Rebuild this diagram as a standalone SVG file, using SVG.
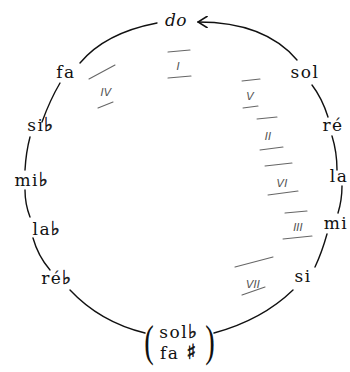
<svg xmlns="http://www.w3.org/2000/svg" width="350" height="372" viewBox="0 0 350 372">
<style>
.n{font-family:"DejaVu Serif","Liberation Serif",serif;font-size:17px;fill:#111;text-anchor:middle;letter-spacing:1.5px}
.it{font-style:italic;letter-spacing:0.5px}
.f{font-family:"DejaVu Sans",sans-serif;font-size:19px;fill:#111;stroke:#111;stroke-width:0.5}
.s{font-size:21px}
.c{fill:none;stroke:#111;stroke-width:1.4;stroke-linecap:round}
.r{font-family:"DejaVu Sans","Liberation Sans",sans-serif;font-size:11px;font-style:italic;fill:#555;text-anchor:middle}
.b{stroke:#666;stroke-width:1.1;fill:none;stroke-linecap:round}
.p{font-family:"Liberation Serif","DejaVu Serif",serif;font-size:44px;fill:#111;text-anchor:middle}
</style>
<defs>
<marker id="ah" viewBox="0 0 10 10" refX="9" refY="5" markerWidth="12" markerHeight="12" markerUnits="userSpaceOnUse" orient="auto">
<path d="M1,0 L9,5 L1,10" fill="none" stroke="#111" stroke-width="1.3"/>
</marker>
</defs>
<rect width="350" height="372" fill="#fff"/>
<g id="connectors">
<path class="c" d="M80,63 Q105,33 157,23"/>
<path class="c" d="M297,60 Q265,22 198,22" marker-end="url(#ah)"/>
<path class="c" d="M312,85 Q322,98 328,117"/>
<path class="c" d="M332,136 Q337,152 337,170"/>
<path class="c" d="M342,186 Q342,200 338,213"/>
<path class="c" d="M327,234 Q322,252 315,267"/>
<path class="c" d="M293,290 Q262,320 214,333"/>
<path class="c" d="M145,333 Q100,322 70,290"/>
<path class="c" d="M50,270 Q38,256 33,238"/>
<path class="c" d="M30,217 Q25,204 25,190"/>
<path class="c" d="M25,170 Q26,152 30,137"/>
<path class="c" d="M42,122 Q50,100 60,83"/>
</g>
<g id="do"><text class="n it" x="176" y="26">do</text></g>
<g id="fa"><text class="n" x="66" y="78">fa</text></g>
<g id="sol"><text class="n" x="305" y="78">sol</text></g>
<g id="sib"><text class="n" x="41" y="131">si<tspan class="f">♭</tspan></text></g>
<g id="re"><text class="n" x="333" y="131">ré</text></g>
<g id="mib"><text class="n" x="32" y="186">mi<tspan class="f">♭</tspan></text></g>
<g id="la"><text class="n" x="339" y="182">la</text></g>
<g id="lab"><text class="n" x="47" y="235">la<tspan class="f">♭</tspan></text></g>
<g id="mi"><text class="n" x="336" y="229">mi</text></g>
<g id="reb"><text class="n" x="57" y="284">ré<tspan class="f">♭</tspan></text></g>
<g id="si"><text class="n" x="303" y="282">si</text></g>
<g id="solb-fas">
<text class="n" x="179" y="338">sol<tspan class="f">♭</tspan></text>
<text class="n" x="179" y="359">fa <tspan class="f s">♯</tspan></text>
<text class="p" transform="translate(149,356) scale(0.65,1)">(</text>
<text class="p" transform="translate(210,356) scale(0.65,1)">)</text>
</g>
<g id="degrees">
<g id="deg-I"><path class="b" d="M168,52 L190,50 M168,78 L191,76"/><text class="r" x="178" y="70">I</text></g>
<g id="deg-IV"><path class="b" d="M89,79 L115,65 M98,108 L113,102"/><text class="r" x="106" y="96">IV</text></g>
<g id="deg-V"><path class="b" d="M242,81 L260,79 M243,108 L258,106"/><text class="r" x="250" y="100">V</text></g>
<g id="deg-II"><path class="b" d="M257,119 L277,117 M260,150 L283,147"/><text class="r" x="268" y="140">II</text></g>
<g id="deg-VI"><path class="b" d="M265,166 L292,163 M268,195 L298,191"/><text class="r" x="282" y="187">VI</text></g>
<g id="deg-III"><path class="b" d="M285,213 L307,211 M283,239 L312,236"/><text class="r" x="298" y="231">III</text></g>
<g id="deg-VII"><path class="b" d="M235,267 L273,257 M242,295 L265,287"/><text class="r" x="253" y="288">VII</text></g>
</g>
</svg>
